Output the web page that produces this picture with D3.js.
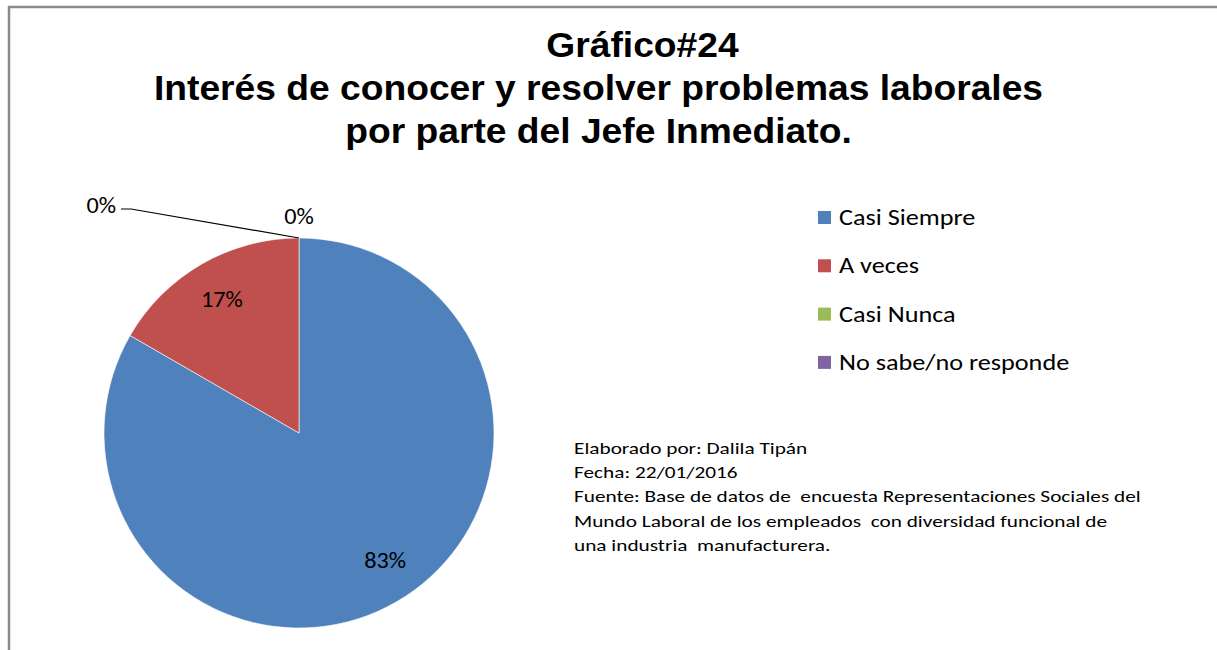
<!DOCTYPE html>
<html>
<head>
<meta charset="utf-8">
<script src="https://cdn.jsdelivr.net/npm/d3@7"></script>
<style>
  html, body { margin: 0; padding: 0; background: #fff; }
  svg { display: block; }
</style>
</head>
<body>
<svg id="chart" width="1217" height="650"></svg>
<script>
// Survey answers (counts) for chart #24
const categories = ["Casi Siempre", "A veces", "Casi Nunca", "No sabe/no responde"];
const counts = [5, 1, 0, 0];
const colors = ["#4F81BD", "#C0504D", "#9BBB59", "#8064A2"];
const titleLines = ["Gráfico#24", "Interés de conocer y resolver problemas laborales", "por parte del Jefe Inmediato."];
const noteLines = [
  "Elaborado por: Dalila Tipán",
  "Fecha: 22/01/2016",
  "Fuente: Base de datos de  encuesta Representaciones Sociales del",
  "Mundo Laboral de los empleados  con diversidad funcional de",
  "una industria  manufacturera."
];

const svg = d3.select("#chart");
const W = 1217, H = 650;
const bodyFont = "Carlito, Lato, 'Liberation Sans', sans-serif";

svg.append("rect").attr("width", W).attr("height", H).attr("fill", "#fff");

// chart frame (top and left edges visible)
svg.append("path")
  .attr("d", `M9,${H} L9,7 L${W},7`)
  .attr("fill", "none").attr("stroke", "#8a8a8a").attr("stroke-width", 2.5);

// text placed at (x, y) and widened horizontally by sx
const place = (x, y, sx) => `translate(${x},${y}) scale(${sx},1)`;

// title (the first line is indented to the right)
const titleIndent = [44, 0, 0];
svg.append("g").selectAll("text").data(titleLines).join("text")
  .attr("transform", (d, i) => place(598.5 + titleIndent[i], 57 + i * 43, 1.048))
  .attr("text-anchor", "middle")
  .attr("font-family", "'Liberation Sans', Arial, sans-serif")
  .attr("font-weight", "bold")
  .attr("font-size", 35.5)
  .attr("fill", "#000")
  .text(d => d);

// pie
const cx = 299, cy = 433, R = 195;
const total = d3.sum(counts);
const data = categories.map((c, i) => ({ name: c, value: counts[i], color: colors[i] }));
const pie = d3.pie().value(d => d.value).sort(null).startAngle(0).endAngle(2 * Math.PI);
const arcs = pie(data);
const arc = d3.arc().innerRadius(0).outerRadius(R);

const g = svg.append("g").attr("transform", `translate(${cx},${cy})`);
g.selectAll("path").data(arcs.filter(a => a.value > 0)).join("path")
  .attr("d", arc)
  .attr("fill", d => d.data.color)
  .attr("stroke", "#fff")
  .attr("stroke-width", 0.6);

const pct = v => Math.round(v / total * 100) + "%";
const labelArc = d3.arc().innerRadius(154).outerRadius(154);
const labelFont = 22;
const labelSx = 1.1;

// labels inside the non-empty slices
g.selectAll("text.inner").data(arcs.filter(a => a.value > 0)).join("text")
  .attr("class", "inner")
  .attr("transform", d => {
    // large slices keep their label a little nearer the start edge
    const shift = (d.endAngle - d.startAngle) > Math.PI ? -0.07 : 0;
    const mid = (d.startAngle + d.endAngle) / 2 + shift;
    const [x, y] = labelArc.centroid({ startAngle: mid, endAngle: mid });
    return place(x, y, labelSx);
  })
  .attr("text-anchor", "middle")
  .attr("dy", "0.35em")
  .attr("font-family", bodyFont)
  .attr("font-size", labelFont)
  .attr("fill", "#000")
  .text(d => pct(d.value));

// labels for the empty slices sit outside the pie at the top
const zeroArcs = arcs.filter(a => a.value === 0);
const outerPt = a => {
  const ang = a.startAngle;
  return [Math.sin(ang) * R, -Math.cos(ang) * R];
};
zeroArcs.forEach((a, i) => {
  const [px, py] = outerPt(a);
  if (i === 0) {
    g.append("text")
      .attr("transform", place(px, py - 22, labelSx))
      .attr("text-anchor", "middle")
      .attr("dy", "0.35em")
      .attr("font-family", bodyFont)
      .attr("font-size", labelFont)
      .attr("fill", "#000")
      .text(pct(a.value));
  } else {
    const lx = px - 168, ly = py - 29;
    g.append("path")
      .attr("d", `M${px},${py} L${lx},${ly} L${lx - 10},${ly}`)
      .attr("fill", "none").attr("stroke", "#000").attr("stroke-width", 1.2);
    g.append("text")
      .attr("transform", place(lx - 15, ly - 4, labelSx))
      .attr("text-anchor", "end")
      .attr("dy", "0.35em")
      .attr("font-family", bodyFont)
      .attr("font-size", labelFont)
      .attr("fill", "#000")
      .text(pct(a.value));
  }
});

// legend
const legend = svg.append("g").attr("transform", "translate(818,217)");
const rows = legend.selectAll("g").data(data).join("g")
  .attr("transform", (d, i) => `translate(0,${i * 48.3})`);
rows.append("rect")
  .attr("x", 0).attr("y", -6).attr("width", 13).attr("height", 13)
  .attr("fill", d => d.color);
rows.append("text")
  .attr("transform", place(21, 0, 1.14))
  .attr("dy", "0.35em")
  .attr("font-family", bodyFont)
  .attr("font-size", 23)
  .attr("fill", "#000")
  .text(d => d.name);

// source note
svg.append("g").selectAll("text").data(noteLines).join("text")
  .attr("transform", (d, i) => place(574, 448 + i * 24.3, 1.29))
  .attr("dy", "0.35em")
  .attr("font-family", bodyFont)
  .attr("font-size", 16.5)
  .attr("fill", "#000")
  .style("white-space", "pre")
  .text(d => d);
</script>
</body>
</html>
